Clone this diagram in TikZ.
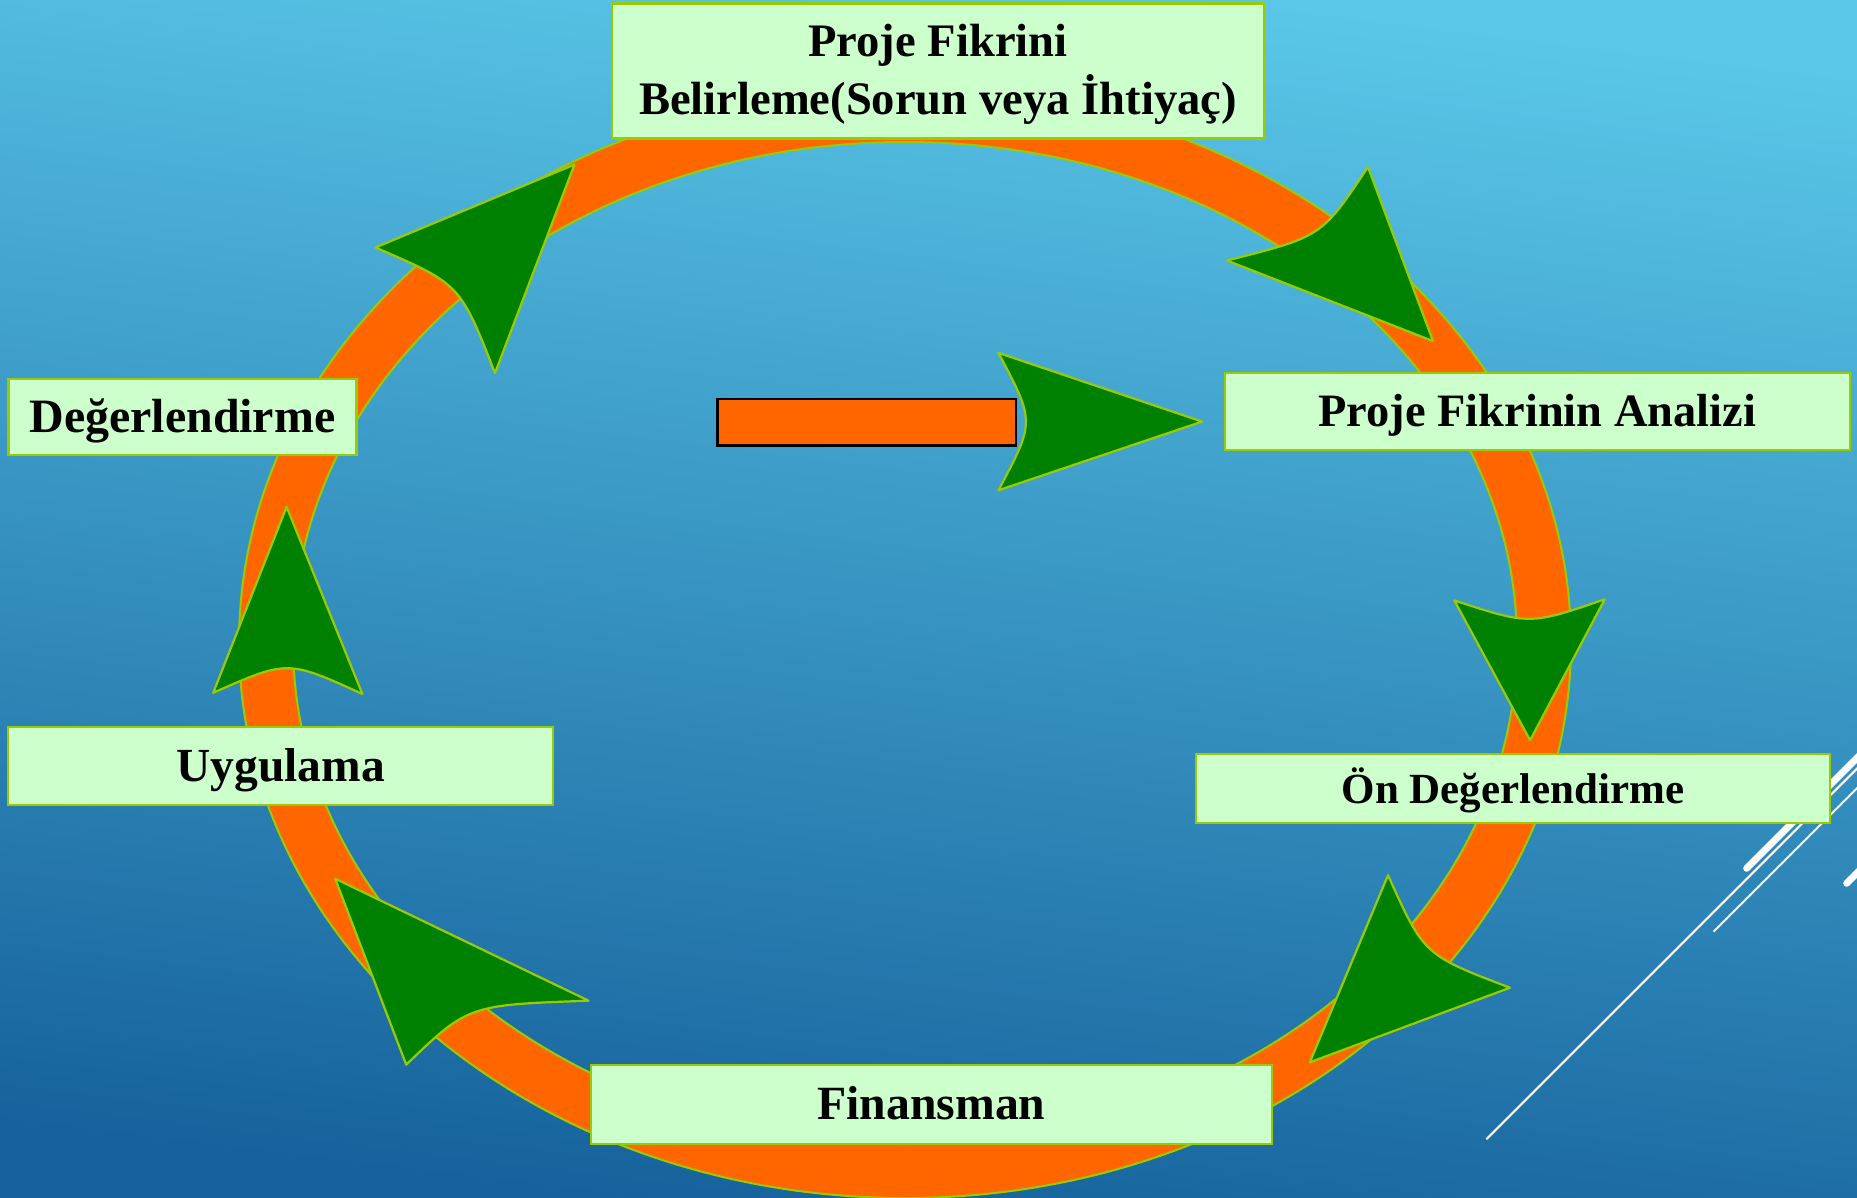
\documentclass[tikz,border=0pt]{standalone}
\usepackage{fontspec}
\setmainfont{Liberation Serif}
\usetikzlibrary{calc}
\definecolor{bgtop}{RGB}{90,199,232}
\definecolor{bgbot}{RGB}{22,98,156}
\definecolor{ringor}{RGB}{255,102,0}
\definecolor{limeedge}{RGB}{153,204,0}
\definecolor{boxfill}{RGB}{204,255,204}
\definecolor{headgreen}{RGB}{0,128,0}
\tikzset{
 labelbox/.style={draw=limeedge, line width=2.5pt, fill=boxfill, rectangle, inner sep=0pt, text=black, text depth=0pt},
 titletext/.style={anchor=base, inner sep=0pt, text=black, font=\bfseries\fontsize{46.6}{56}\selectfont},
 headshape/.style={fill=headgreen, draw=limeedge, line width=2.2pt, line join=round},
 ringshape/.style={fill=ringor, draw=limeedge, line width=2pt, even odd rule},
 slashthin/.style={draw=white, line width=2pt},
 slashthick/.style={draw=white, line width=7pt, line cap=round},
 barshape/.style={fill=ringor, draw=black, line width=2.5pt},
}
\newcommand{\headtri}[3]{%
 \path[headshape] #2 -- #1 -- #3 .. controls ($0.41*#2+0.41*#3+0.18*#1$) .. #2 -- cycle;}
\begin{document}
\begin{tikzpicture}[x=1pt,y=-1pt]
\useasboundingbox (0,0) rectangle (1857,1198);
\shade[top color=bgtop, bottom color=bgbot, shading angle=-7] (0,0) rectangle (1857,1198);
% decorative slashes
\begin{scope}
\clip (0,0) rectangle (1857,1198);
\draw[slashthick] (1746.7,868.3) -- ++(160,-160);
\draw[slashthin] (1486.3,1139.3) -- ++(430,-430);
\draw[slashthin] (1713.5,931.7) -- ++(200,-200);
\draw[slashthick] (1846.7,883.3) -- ++(60,-60);
\end{scope}
% ring
\path[ringshape] (905,643) ellipse [x radius=666pt, y radius=555pt]
                 (905,643) ellipse [x radius=612pt, y radius=501pt];
% central arrow bar
\path[barshape] (717.7,399.1) rectangle (1016.1,445.3);
% arrowheads
\headtri{(574.4,164.6)}{(375.4,247.5)}{(495.0,373.1)}
\headtri{(1433.0,341.1)}{(1367.9,167.0)}{(1226.9,260.5)}
\headtri{(1530.1,740.2)}{(1454.3,600.4)}{(1604.7,599.3)}
\headtri{(1309.8,1062.3)}{(1388.0,875.2)}{(1510.0,987.7)}
\headtri{(335.2,878.7)}{(406.2,1064.7)}{(588.6,1000.7)}
\headtri{(286.6,506.9)}{(213.2,692.8)}{(362.4,694.0)}
\headtri{(1202.1,421.6)}{(998.4,352.9)}{(998.4,490.3)}
% boxes
\node[labelbox, minimum width=652pt, minimum height=135pt] (idea) at (938,71) {};
\node[titletext] (idea1) at (938,57) {Proje Fikrini};
\node[titletext] (idea2) at (938,115) {Belirleme(Sorun veya İhtiyaç)};
\node[labelbox, minimum width=625pt, minimum height=77pt, text height=29.6pt,
      font=\bfseries\fontsize{46.4}{55}\selectfont] (analiz) at (1537.3,411.5)
      {Proje Fikrinin Analizi};
\node[labelbox, minimum width=634pt, minimum height=69pt, text height=29pt,
      font=\bfseries\fontsize{43}{52}\selectfont] (onde) at (1513,788.5)
      {Ön Değerlendirme};
\node[labelbox, minimum width=681pt, minimum height=79pt, text height=29.4pt,
      font=\bfseries\fontsize{47.7}{56}\selectfont] (fin) at (931.5,1104.5)
      {Finansman};
\node[labelbox, minimum width=545pt, minimum height=78pt, text height=31pt,
      font=\bfseries\fontsize{47.5}{56}\selectfont] (uyg) at (280.7,766)
      {Uygulama};
\node[labelbox, minimum width=348pt, minimum height=76pt, text height=30.6pt,
      font=\bfseries\fontsize{47.9}{56}\selectfont] (deg) at (182.4,417)
      {Değerlendirme};
\end{tikzpicture}
\end{document}
